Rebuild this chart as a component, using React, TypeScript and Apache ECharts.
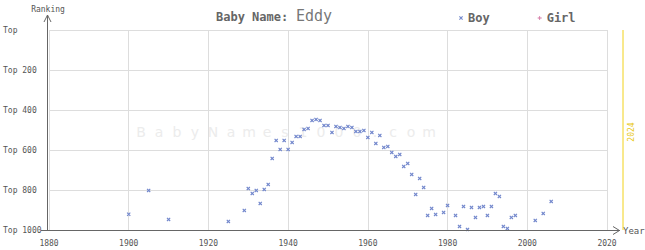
import React, { useEffect, useRef } from "react";
import * as echarts from "echarts";

const boyYears = [
  1900, 1905, 1910, 1925, 1929, 1930, 1931, 1932, 1933, 1934,
  1935, 1936, 1937, 1938, 1939, 1940, 1941, 1942, 1943, 1944,
  1945, 1946, 1947, 1948, 1949, 1950, 1951, 1952, 1953, 1954,
  1955, 1956, 1957, 1958, 1959, 1960, 1961, 1962, 1963, 1964,
  1965, 1966, 1967, 1968, 1969, 1970, 1971, 1972, 1973, 1974,
  1975, 1976, 1977, 1979, 1980, 1982, 1983, 1984, 1985, 1986,
  1987, 1988, 1989, 1990, 1991, 1992, 1993, 1994, 1995, 1996,
  1997, 2002, 2004, 2006,
];
const boyRanks = [
  921, 802, 947, 957, 902, 793, 817, 802, 867, 797,
  772, 642, 552, 597, 552, 597, 562, 532, 532, 497,
  492, 452, 447, 452, 477, 477, 512, 482, 487, 492,
  482, 487, 507, 507, 502, 537, 512, 567, 527, 587,
  582, 612, 632, 622, 682, 667, 722, 822, 742, 787,
  927, 892, 922, 912, 877, 927, 982, 882, 997, 887,
  937, 887, 882, 927, 882, 817, 832, 982, 992, 937,
  927, 952, 917, 857,
];
const girlYears: number[] = [];
const girlRanks: number[] = [];
const currentYear = 2024;
const rankTicks = [0, 200, 400, 600, 800, 1000];
const babyName = "Eddy";
const watermark = "BabyNames1000.com";

const MONO = "'DejaVu Sans Mono', monospace";
const crossPath = "path://M0,0.8L0.8,0L4,3.2L3.2,4Z M3.2,0L4,0.8L0.8,4L0,3.2Z";
const plusPath = "path://M1.6,0L2.4,0L2.4,1.6L4,1.6L4,2.4L2.4,2.4L2.4,4L1.6,4L1.6,2.4L0,2.4L0,1.6L1.6,1.6Z";

export default function App() {
  const ref = useRef<HTMLDivElement>(null);
  useEffect(() => {
    if (!ref.current) return;
    const chart = echarts.init(ref.current, null, { renderer: "svg" });
    const wmChars = watermark.split("").map((ch, i) => ({
      type: "text",
      z: -10,
      x: 141 + i * 18,
      y: 132,
      style: {
        text: ch,
        fill: "#ececec",
        font: "14px 'DejaVu Sans'",
        align: "center",
        verticalAlign: "middle",
      },
    }));
    chart.setOption({
      animation: false,
      grid: [
        { left: 47, top: 30, width: 560, height: 200 },
        { left: 47, top: 30, width: 576, height: 200 },
      ],
      xAxis: [
        {
          type: "value",
          gridIndex: 0,
          min: 1880,
          max: 2020,
          interval: 20,
          axisLine: { show: false },
          axisTick: { show: false },
          splitLine: { show: true, lineStyle: { color: "#dddddd", width: 1 } },
          axisLabel: {
            fontFamily: MONO,
            fontSize: 8,
            color: "#555",
            margin: 9,
            formatter: (v: number) => String(v),
          },
        },
        { type: "value", gridIndex: 1, min: 1880, max: currentYear, show: false },
      ],
      yAxis: [
        {
          type: "value",
          gridIndex: 0,
          min: 0,
          max: 1000,
          interval: 200,
          inverse: true,
          axisLine: { show: false },
          axisTick: { show: false },
          splitLine: { show: true, lineStyle: { color: "#dddddd", width: 1 } },
          axisLabel: {
            fontFamily: MONO,
            fontSize: 8,
            color: "#555",
            align: "left",
            margin: 46,
            formatter: (v: number) => (rankTicks.includes(v) ? (v === 0 ? "Top" : "Top " + v) : ""),
          },
        },
        { type: "value", gridIndex: 1, min: 0, max: 1000, inverse: true, show: false },
      ],
      legend: {
        left: 454,
        top: 7,
        itemWidth: 4,
        itemHeight: 4,
        itemGap: 48,
        textStyle: { fontFamily: MONO, fontSize: 12, fontWeight: "bold", color: "#666" },
        data: [
          { name: "Boy", icon: crossPath },
          { name: "Girl", icon: plusPath },
        ],
      },
      series: [
        {
          name: "Boy",
          type: "scatter",
          xAxisIndex: 0,
          yAxisIndex: 0,
          symbol: crossPath,
          symbolSize: 4,
          itemStyle: { color: "#7287cc", opacity: 1 },
          data: boyYears.map((y, i) => [y, boyRanks[i]]),
          z: 5,
        },
        {
          name: "Girl",
          type: "scatter",
          xAxisIndex: 0,
          yAxisIndex: 0,
          symbol: plusPath,
          symbolSize: 4,
          itemStyle: { color: "#c8508a" },
          data: girlYears.map((y, i) => [y, girlRanks[i]]),
        },
        {
          name: "current",
          type: "line",
          xAxisIndex: 1,
          yAxisIndex: 1,
          symbol: "none",
          silent: true,
          lineStyle: { color: "#f2d21a", width: 1 },
          data: [
            [currentYear, 0],
            [currentYear, 1000],
          ],
        },
      ],
      graphic: [
        ...wmChars,
        {
          type: "line",
          shape: { x1: 41, y1: 230.5, x2: 620, y2: 230.5 },
          style: { stroke: "#666", lineWidth: 1 },
          z: 10,
        },
        {
          type: "polyline",
          shape: { points: [[613, 226.5], [619.5, 230.5], [613, 234.5]] },
          style: { stroke: "#666", lineWidth: 1, fill: null },
          z: 10,
        },
        {
          type: "line",
          shape: { x1: 47.5, y1: 231, x2: 47.5, y2: 15 },
          style: { stroke: "#666", lineWidth: 1 },
          z: 10,
        },
        {
          type: "polyline",
          shape: { points: [[44, 22], [47.5, 15], [51, 22]] },
          style: { stroke: "#666", lineWidth: 1, fill: null },
          z: 10,
        },
        {
          type: "text",
          x: 48,
          y: 9,
          style: { text: "Ranking", font: "8px " + MONO, fill: "#555", align: "center", verticalAlign: "middle" },
        },
        {
          type: "text",
          x: 623,
          y: 231,
          style: { text: "Year", font: "9px " + MONO, fill: "#555", align: "left", verticalAlign: "middle" },
        },
        {
          type: "text",
          x: 631,
          y: 132,
          rotation: Math.PI / 2,
          style: { text: String(currentYear), font: "8px " + MONO, fill: "#e8c81a", align: "center", verticalAlign: "middle" },
        },
        {
          type: "text",
          x: 216,
          y: 17,
          style: { text: "Baby Name:", font: "bold 12px " + MONO, fill: "#666", align: "left", verticalAlign: "middle" },
        },
        {
          type: "text",
          x: 296,
          y: 16,
          style: { text: babyName, font: "15px " + MONO, fill: "#777", align: "left", verticalAlign: "middle" },
        },
      ],
    });
    return () => chart.dispose();
  }, []);
  return (
    <div
      ref={ref}
      style={{ position: "fixed", left: 0, top: 0, width: 645, height: 250, background: "#fff" }}
    />
  );
}
